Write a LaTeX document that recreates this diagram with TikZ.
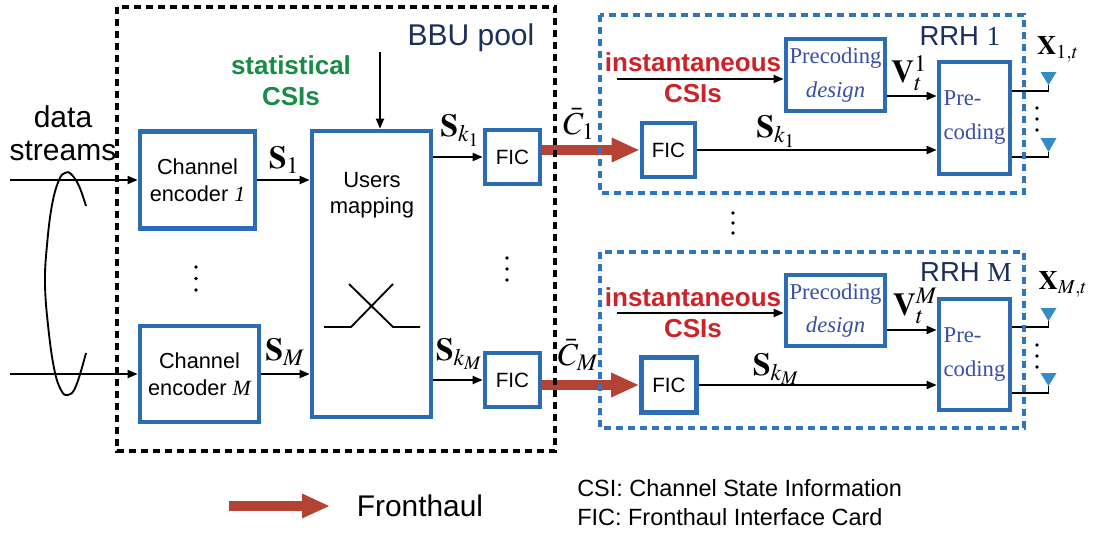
\documentclass[tikz,border=0pt]{standalone}
\usepackage{mathptmx}
\usepackage[no-math]{fontspec}
\setmainfont{Liberation Sans}
\newfontfamily\tms{Liberation Serif}
\usetikzlibrary{arrows.meta,calc}
\definecolor{boxblue}{RGB}{43,108,181}
\definecolor{dashblue}{RGB}{47,116,190}
\definecolor{navy}{RGB}{28,46,92}
\definecolor{csigreen}{RGB}{24,140,70}
\definecolor{csired}{RGB}{205,35,40}
\definecolor{precblue}{RGB}{58,78,165}
\definecolor{fhred}{RGB}{180,67,52}
\definecolor{antblue}{RGB}{52,140,196}
\begin{document}
\begin{tikzpicture}[x=0.75pt,y=-0.75pt,
  bx/.style={draw=boxblue,line width=3.5pt,fill=white,inner sep=0pt,align=center},
  arr/.style={line width=1.4pt,-{Triangle[length=7.5pt,width=6pt]}},
  thinl/.style={line width=1.4pt},
  fh/.style={draw=fhred,line width=7.5pt,-{Triangle[length=21pt,width=17pt]}},
  bbu/.style={draw=black,line width=3.4pt,dash pattern=on 5.5pt off 3.5pt},
  rrh/.style={draw=dashblue,line width=3.4pt,dash pattern=on 5.5pt off 3.5pt},
  lbl/.style={inner sep=0pt},
  mth/.style={inner sep=0pt,font=\fontsize{24}{28}\selectfont},
  mthx/.style={inner sep=0pt,font=\fontsize{20}{24}\selectfont},
  boxtxt/.style={font=\fontsize{16.3}{20}\selectfont},
  prectxt/.style={text=precblue,font=\tms\fontsize{17}{25}\selectfont},
  stat/.style={inner sep=0pt,align=center,font=\bfseries\fontsize{19.5}{23.5}\selectfont},
  ant/.style={fill=antblue},
  dot/.style={fill=black}
]
\useasboundingbox (0,0) rectangle (1094,532);

% ---------- BBU pool ----------
\node[bx,boxtxt,minimum width=115*0.75pt,minimum height=97*0.75pt] (enc1) at (197.5,180) {Channel\\encoder {\tms\itshape 1}};
\node[bx,boxtxt,minimum width=119*0.75pt,minimum height=96*0.75pt] (encM) at (199.5,374) {Channel\\encoder {\tms\itshape M}};
\node[bx,minimum width=119*0.75pt,minimum height=286*0.75pt] (users) at (371.5,274) {};
\node[lbl,align=center,font=\fontsize{16.5}{19.5}\selectfont] (ustxt) at (372,195) {Users\\mapping};
\node[bx,font=\fontsize{15.5}{18}\selectfont,minimum width=55*0.75pt,minimum height=54*0.75pt] (fic1) at (512.5,157) {FIC};
\node[bx,font=\fontsize{15.5}{18}\selectfont,minimum width=55*0.75pt,minimum height=54*0.75pt] (ficM) at (512.5,380) {FIC};

% cross inside users mapping
\draw[thinl] (324,327) -- (351,327) -- (393,284);
\draw[thinl] (349,284) -- (393,327) -- (420,327);

% inputs
\coordinate (in1) at (10,180);
\coordinate (inM) at (10,374);
\draw[arr] (in1) -- (enc1.west);
\draw[arr] (inM) -- (encM.west);
\draw[thinl] plot[smooth,tension=0.7] coordinates {(86,206) (79,186) (71,174) (65,173) (59,180) (52,205) (47,245) (45,283) (48,325) (54,368) (61,390) (68,395) (76,386) (86,353)};
\node[lbl,align=center,font=\fontsize{22.5}{24.75}\selectfont] (ds) at (63,133) {data\\streams};

\draw[arr] (enc1.east) -- (enc1.east -| users.west);
\draw[arr] (encM.east) -- (encM.east -| users.west);
\draw[arr] (users.east |- fic1.west) -- (fic1.west);
\draw[arr] (users.east |- ficM.west) -- (ficM.west);
\coordinate (statin) at (380,52);
\draw[arr] (statin) -- (statin |- users.north);

\node[stat,text=csigreen] (statcsi) at (291,81) {statistical\\CSIs};
\node[lbl,text=navy,font=\fontsize{22.5}{26}\selectfont] (bbulbl) at (471,38) {BBU pool};

\node[mth] (s1) at (284,160) {$\mathbf{S}_1$};
\node[mth] (sM) at (285,352) {$\mathbf{S}_M$};
\node[mth] (sk1) at (460,130) {$\mathbf{S}_{k_1}$};
\node[mth] (skM) at (459,354) {$\mathbf{S}_{k_M}$};

\foreach \yy in {267,278.5,290} \fill[dot] (196,\yy) circle[radius=1.8];
\foreach \yy in {258,269,280} \fill[dot] (507,\yy) circle[radius=1.8];

% ---------- RRH 1 ----------
\node[bx,font=\fontsize{15.5}{18}\selectfont,minimum width=53*0.75pt,minimum height=54*0.75pt] (ficr1) at (668.5,150) {FIC};
\node[bx,prectxt,minimum width=99*0.75pt,minimum height=72*0.75pt] (des1) at (835.5,75) {Precoding\\{\itshape design}};
\node[bx,prectxt,align=left,minimum width=71*0.75pt,minimum height=112*0.75pt,font=\tms\fontsize{17}{25.5}\selectfont] (pre1) at (974.5,118) {Pre-\\coding};

\coordinate (ins1) at (617,79);
\draw[arr] (ins1) -- (ins1 -| des1.west);
\draw[arr] ([yshift=-15.75pt]des1.east) coordinate (v1s) -- (v1s -| pre1.west);
\draw[arr] (ficr1.east) -- (ficr1.east -| pre1.west);
\node[stat,text=csired] (inst1) at (693,77.5) {instantaneous\\CSIs};
\node[lbl,text=navy,font=\fontsize{20.6}{24}\selectfont] (rrh1lbl) at (960,36) {RRH {\tms 1}};

\coordinate (a11) at (1048.5,85);
\coordinate (a12) at (1048.5,152);
\fill[ant] (1040.5,72) -- (1056.5,72) -- (a11) -- cycle;
\fill[ant] (1040.5,138) -- (1056.5,138) -- (a12) -- cycle;
\draw[thinl] ([yshift=20.25pt]pre1.east) -| (a11);
\draw[thinl] ([yshift=-29.25pt]pre1.east) -| (a12);
\foreach \yy in {108,119,130} \fill[dot] (1037,\yy) circle[radius=1.8];

\node[mth] (sr1) at (776,131) {$\mathbf{S}_{k_1}$};
\node[mth] (v1) at (909,73) {$\mathbf{V}_t^1$};
\node[mthx] (x1) at (1058,49) {$\mathbf{X}_{1,t}$};
\node[mth] (c1) at (579,124) {$\bar{C}_1$};

% ---------- RRH M ----------
\node[bx,font=\fontsize{15.5}{18}\selectfont,minimum width=55*0.75pt,minimum height=55*0.75pt] (ficrM) at (669,385) {FIC};
\node[bx,prectxt,minimum width=99*0.75pt,minimum height=71*0.75pt] (desM) at (835.5,310.5) {Precoding\\{\itshape design}};
\node[bx,prectxt,align=left,minimum width=71*0.75pt,minimum height=111*0.75pt,font=\tms\fontsize{17}{25.5}\selectfont] (preM) at (974.5,354.5) {Pre-\\coding};

\coordinate (insM) at (617,313);
\draw[arr] (insM) -- (insM -| desM.west);
\draw[arr] ([yshift=-14.6pt]desM.east) coordinate (vMs) -- (vMs -| preM.west);
\draw[arr] (ficrM.east) -- (ficrM.east -| preM.west);
\node[stat,text=csired] (instM) at (693,312.5) {instantaneous\\CSIs};
\node[lbl,text=navy,font=\fontsize{20.6}{24}\selectfont] (rrhMlbl) at (966,272) {RRH {\tms M}};

\coordinate (aM1) at (1048.5,321);
\coordinate (aM2) at (1048.5,386);
\fill[ant] (1040.5,308) -- (1056.5,308) -- (aM1) -- cycle;
\fill[ant] (1040.5,373) -- (1056.5,373) -- (aM2) -- cycle;
\draw[thinl] ([yshift=20.6pt]preM.east) -| (aM1);
\draw[thinl] ([yshift=-28.9pt]preM.east) -| (aM2);
\foreach \yy in {345,356,367} \fill[dot] (1037,\yy) circle[radius=1.8];

\node[mth] (srM) at (776,369) {$\mathbf{S}_{k_M}$};
\node[mth] (vM) at (915,306) {$\mathbf{V}_t^M$};
\node[mthx] (xM) at (1063,284) {$\mathbf{X}_{M,t}$};
\node[mth] (cM) at (578,355) {$\bar{C}_M$};

\foreach \yy in {213,223,233} \fill[dot] (733,\yy) circle[radius=1.8];

% ---------- fronthaul ----------
\draw[fh] (fic1.east |- ficr1.west) -- (ficr1.west);
\draw[fh] (ficM.east |- ficrM.west) -- (ficrM.west);

% dashed enclosures
\draw[bbu] (117,7) rectangle (555,451);
\draw[rrh] (600,15) rectangle (1024,193);
\draw[rrh] (600,252) rectangle (1024,428);

% ---------- legend ----------
\coordinate (lg1) at (229,506);
\coordinate (lg2) at (330,506);
\draw[fh] (lg1) -- (lg2);
\node[lbl,font=\fontsize{22.4}{26}\selectfont] (fhl) at (420,506) {Fronthaul};
\node[lbl,anchor=west,align=left,font=\fontsize{17.6}{21.75}\selectfont] (leg) at (577,502.5) {CSI: Channel State Information\\FIC: Fronthaul Interface Card};
\end{tikzpicture}
\end{document}
